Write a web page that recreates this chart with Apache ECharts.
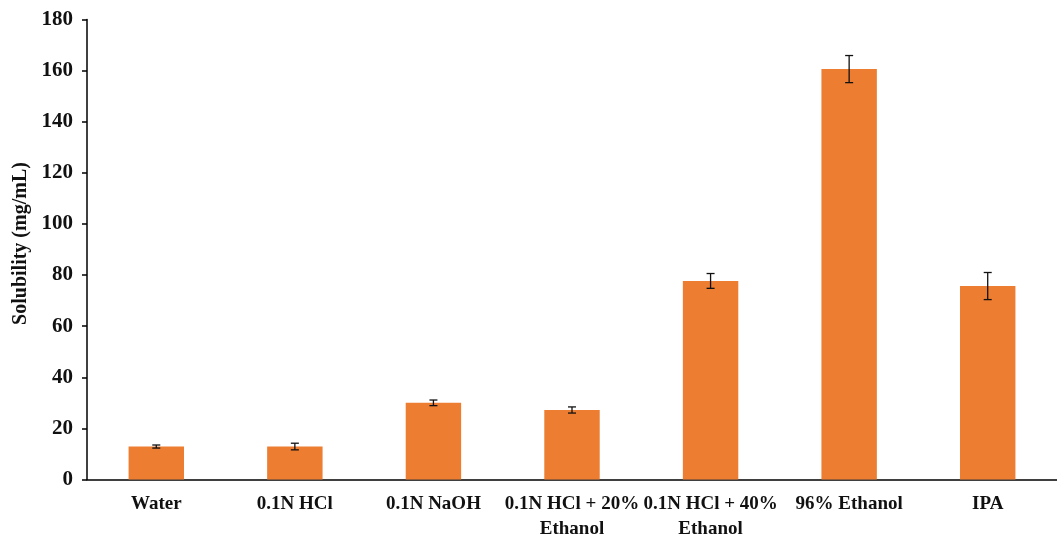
<!DOCTYPE html>
<html><head><meta charset="utf-8">
<script src="https://cdn.jsdelivr.net/npm/echarts@6/dist/echarts.min.js"></script>
<style>html,body{margin:0;padding:0;background:#fff}#c{width:1057px;height:537px}</style>
</head><body><div id="c"></div>
<script>
const categories = ["Water", "0.1N HCl", "0.1N NaOH", "0.1N HCl + 20%\nEthanol", "0.1N HCl + 40%\nEthanol", "96% Ethanol", "IPA"];
const values = [12.9, 12.9, 30.0, 27.2, 77.7, 160.6, 75.7];
const errors = [0.6, 1.3, 1.1, 1.2, 2.9, 5.3, 5.3];
const yTicks = [0, 20, 40, 60, 80, 100, 120, 140, 160, 180];

const font = '"Liberation Serif", "Times New Roman", serif';
const chart = echarts.init(document.getElementById('c'));
chart.setOption({
  animation: false,
  grid: {left: 87, right: 0, top: 19.5, bottom: 57.5, containLabel: false, outerBoundsMode: 'none'},
  xAxis: {
    type: 'category', data: categories,
    axisLine: {lineStyle: {color: '#000', width: 1.5}},
    axisTick: {show: false},
    axisLabel: {interval: 0, color: '#111', fontFamily: font, fontWeight: 'bold', fontSize: 19, lineHeight: 25, margin: 12}
  },
  yAxis: {
    type: 'value', min: yTicks[0], max: yTicks[yTicks.length-1], interval: 20,
    name: 'Solubility (mg/mL)', nameLocation: 'middle', nameGap: 55, nameRotate: 90,
    nameTextStyle: {color: '#111', fontFamily: font, fontWeight: 'bold', fontSize: 20, padding: [0, 0, 0, 12]},
    axisLine: {show: true, lineStyle: {color: '#000', width: 1.5}},
    axisTick: {show: true, length: 5, lineStyle: {color: '#000', width: 1.5}},
    splitLine: {show: false},
    axisLabel: {color: '#111', fontFamily: font, fontWeight: 'bold', fontSize: 21, margin: 14}
  },
  series: [{
    type: 'bar', data: values, barWidth: '40%',
    itemStyle: {color: '#ED7D31'}
  }, {
    type: 'custom',
    data: values.map((v, i) => [i, v - errors[i], v + errors[i]]),
    renderItem: function (params, api) {
      const lo = api.coord([api.value(0), api.value(1)]);
      const hi = api.coord([api.value(0), api.value(2)]);
      const w = 4;
      const st = {stroke: '#111', lineWidth: 1.3};
      return {type: 'group', children: [
        {type: 'line', shape: {x1: hi[0], y1: hi[1], x2: lo[0], y2: lo[1]}, style: st},
        {type: 'line', shape: {x1: hi[0]-w, y1: hi[1], x2: hi[0]+w, y2: hi[1]}, style: st},
        {type: 'line', shape: {x1: lo[0]-w, y1: lo[1], x2: lo[0]+w, y2: lo[1]}, style: st}
      ]};
    },
    z: 10
  }]
});
</script></body></html>
